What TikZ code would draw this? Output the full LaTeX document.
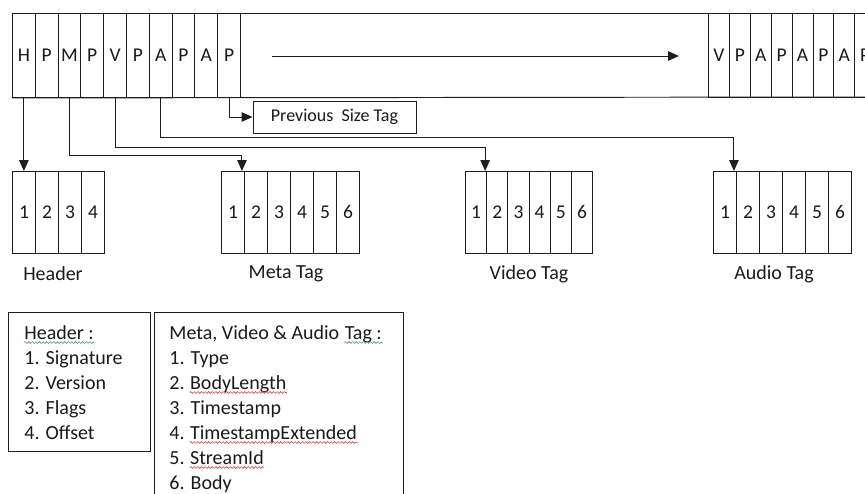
\documentclass[tikz,border=0pt]{standalone}
\usepackage{fontspec}
\setmainfont{Carlito}
\usetikzlibrary{arrows.meta,decorations.pathmorphing}
\definecolor{ink}{HTML}{1A1A1A}
\definecolor{ln}{HTML}{1E1E1E}
\definecolor{wavered}{HTML}{D94545}
\definecolor{wavegreen}{HTML}{4F9A62}
\begin{document}
\begin{tikzpicture}[x=1pt,y=-1pt,
  line width=0.95pt,
  every node/.style={text=ink},
  cell/.style={draw=ln, rectangle, inner sep=0pt, anchor=north west, minimum height=84pt, font=\fontsize{19.5}{22}\selectfont},
  bcell/.style={draw=ln, rectangle, inner sep=0pt, anchor=north west, minimum height=82pt, font=\fontsize{19.5}{22}\selectfont},
  arr/.style={draw=ln, -{Triangle[length=11pt,width=9.5pt]}},
  lbl/.style={font=\fontsize{20}{24}\selectfont, inner sep=0pt},
  lg/.style={font=\fontsize{20}{24}\selectfont, inner sep=0pt, anchor=base west},
  legbox/.style={draw=ln, rectangle, inner sep=0pt, anchor=north west},
  wave/.style={decorate, decoration={snake, amplitude=0.9pt, segment length=3.6pt}, line width=0.6pt}
]
\useasboundingbox (0,0) rectangle (865,493);
\clip (0,0) rectangle (865,493);

% ---- top stream ----
\foreach \l [count=\i] in {H,P,M,P,V,P,A,P,A,P}
  \node[cell, minimum width=22.8pt] (c\i) at ({12+(\i-1)*22.8},13) {\l};
\foreach \l [count=\i] in {V,P,A,P,A,P,A,P}
  \node[cell, minimum width=20.9pt] (r\i) at ({708+(\i-1)*20.9},13) {\l};
\coordinate (topR) at (870,13);
\coordinate (botR) at (870,97);
\draw[ln] (c1.north west) -- (topR);
\draw[ln] (c1.south west) -- (botR);
\coordinate (aS) at (272,56);
\coordinate (aE) at (679,56);
\draw[arr] (aS) -- (aE);

% ---- previous size tag ----
\node[draw=ln, rectangle, inner sep=0pt, minimum width=163pt, minimum height=32pt,
      font=\fontsize{18}{22}\selectfont] (pst) at (334.5,117) {Previous\ \ Size Tag};

% ---- tag boxes ----
\foreach \l [count=\i] in {1,2,3,4}
  \node[bcell, minimum width=23pt] (h\i) at ({12+(\i-1)*23},171) {\l};
\foreach \l [count=\i] in {1,2,3,4,5,6}
  \node[bcell, minimum width=23pt] (m\i) at ({221+(\i-1)*23},171) {\l};
\foreach \l [count=\i] in {1,2,3,4,5,6}
  \node[bcell, minimum width=21.2pt] (v\i) at ({465+(\i-1)*21.2},171) {\l};
\foreach \l [count=\i] in {1,2,3,4,5,6}
  \node[bcell, minimum width=23pt] (a\i) at ({713+(\i-1)*23},171) {\l};

\node[lbl] (hL) at (53,274) {Header};
\node[lbl] (mL) at (286,274) {Meta Tag};
\node[lbl] (vL) at (529,274) {Video Tag};
\node[lbl] (aL) at (774,274) {Audio Tag};

% ---- connectors ----
\coordinate (yA) at (0,137.5);
\coordinate (yV) at (0,147.5);
\coordinate (yM) at (0,155);
\draw[arr] (c1.south) -- (c1.south |- h1.north);
\draw[arr] (c3.south) -- (c3.south |- yM) -| ([xshift=-3pt]m1.north east);
\draw[arr] (c5.south) -- (c5.south |- yV) -| ([xshift=-2pt]v1.north east);
\draw[arr] (c7.south) -- (c7.south |- yA) -| ([xshift=-3pt]a1.north east);
\draw[arr] (c10.south) |- (pst.west);

% ---- legend ----
\node[legbox, minimum width=142pt, minimum height=139pt] (lg1) at (8,312) {};
\node[legbox, minimum width=249pt, minimum height=200pt] (lg2) at (154,312) {};

\node[lg] (hd) at (24,339) {Header :};
\node[lg] (h1t) at (24,364) {1. Signature};
\node[lg] (h2t) at (24,389) {2. Version};
\node[lg] (h3t) at (24,414) {3. Flags};
\node[lg] (h4t) at (24,439) {4. Offset};

\node[lg] (mtA) at (169,339) {Meta, Video \& Audio};
\node[lg] (mtB) at ([xshift=4.5pt]mtA.base east) {Tag :};
\node[lg] (t1) at (169,364) {1. Type};
\node[lg] (t2a) at (169,389) {2.};
\node[lg] (t2b) at ([xshift=4.5pt]t2a.base east) {BodyLength};
\node[lg] (t3) at (169,414) {3. Timestamp};
\node[lg] (t4a) at (169,439) {4.};
\node[lg] (t4b) at ([xshift=4.5pt]t4a.base east) {TimestampExtended};
\node[lg] (t5a) at (169,464) {5.};
\node[lg] (t5b) at ([xshift=4.5pt]t5a.base east) {StreamId};
\node[lg] (t6) at (169,489) {6. Body};

\draw[wave, wavegreen] ([yshift=-3.5pt]hd.base west) -- ([yshift=-3.5pt]hd.base east);
\draw[wave, wavegreen] ([yshift=-3.5pt]mtB.base west) -- ([yshift=-3.5pt]mtB.base east);
\draw[wave, wavered] ([yshift=-3.5pt]t2b.base west) -- ([yshift=-3.5pt]t2b.base east);
\draw[wave, wavered] ([yshift=-3.5pt]t4b.base west) -- ([yshift=-3.5pt]t4b.base east);
\draw[wave, wavered] ([yshift=-3.5pt]t5b.base west) -- ([yshift=-3.5pt]t5b.base east);
\end{tikzpicture}
\end{document}
